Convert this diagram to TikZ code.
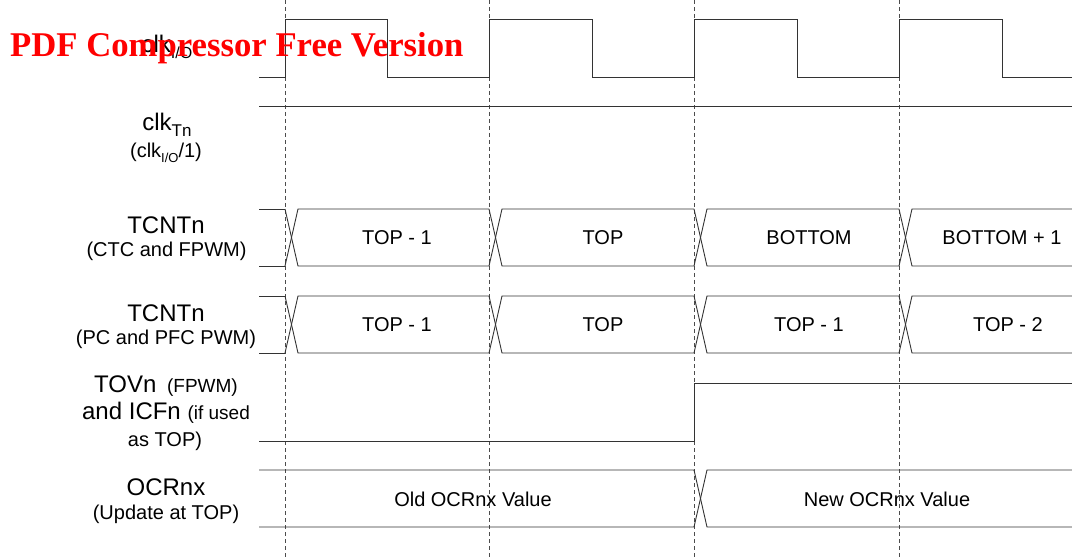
\documentclass[tikz,border=0pt]{standalone}
\usepackage{fontspec}
\setmainfont{Liberation Sans}
\newfontfamily\wmfont{Liberation Serif}
\newcommand\mysub[2]{\raisebox{-0.45ex}{\fontsize{#1}{#1}\selectfont #2}}
\tikzset{
  sig/.style={line width=0.9pt, draw=black!80},
  gridline/.style={dash pattern=on 4pt off 3pt, line width=0.7pt, draw=black!70},
  lbl/.style={font=\fontsize{24}{28}\selectfont, inner sep=0, text=black},
  sublbl/.style={font=\fontsize{20}{24}\selectfont, inner sep=0, text=black},
  val/.style={font=\fontsize{20}{24}\selectfont, inner sep=0, text=black},
}
\begin{document}
\begin{tikzpicture}[x=1pt,y=-1pt]
\useasboundingbox (0,0) rectangle (1072,559);
% dashed time markers
\foreach \x in {285,489,694,899} \draw[gridline] (\x,0) -- (\x,559);
% clk I/O
\draw[sig] (259,77) -- (285,77) -- (285,19) -- (387,19) -- (387,77) -- (489,77) -- (489,19) -- (592,19) -- (592,77) -- (694,77) -- (694,19) -- (797,19) -- (797,77) -- (899,77) -- (899,19) -- (1002,19) -- (1002,77) -- (1072,77);
% clk Tn
\draw[sig] (259,106) -- (1072,106);
% TCNTn buses
\foreach \ty/\by in {209/266, 296/353} {
  \draw[sig] (259,\ty) -- (285,\ty) (259,\by) -- (285,\by);
  \foreach \a/\n in {285/489, 489/694, 694/899, 899/1072} {
    \draw[sig] (\a,\ty) -- (\a+13,\by) -- (\n,\by);
    \draw[sig] (\a,\by) -- (\a+13,\ty) -- (\n,\ty);
  }
}
\node[val] (c1) at (397,238) {TOP - 1};
\node[val] (c2) at (603,238) {TOP};
\node[val] (c3) at (809,238) {BOTTOM};
\node[val] (c4) at (1002,238) {BOTTOM + 1};
\node[val] (p1) at (397,325) {TOP - 1};
\node[val] (p2) at (603,325) {TOP};
\node[val] (p3) at (809,325) {TOP - 1};
\node[val] (p4) at (1008,325) {TOP - 2};
% TOVn
\draw[sig] (259,441) -- (694,441) -- (694,383) -- (1072,383);
% OCRnx
\draw[sig] (259,470) -- (694,470) -- (707,527) -- (1072,527);
\draw[sig] (259,527) -- (694,527) -- (707,470) -- (1072,470);
\node[val] (o1) at (473,499) {Old OCRnx Value};
\node[val] (o2) at (887,499) {New OCRnx Value};
% labels
\node[lbl] (lclkio) at (167,47) {clk\mysub{16}{I/O}};
\node[lbl] (lclktn) at (167,125) {clk\mysub{17}{Tn}};
\node[sublbl] (lclktn2) at (166,153) {(clk\mysub{13}{I/O}/1)};
\node[lbl] (ltc1) at (166,225) {TCNTn};
\node[sublbl] (ltc1b) at (166.5,251) {(CTC and FPWM)};
\node[lbl] (ltov1) at (166,386) {TOVn\, {\fontsize{19}{19}\selectfont (FPWM)}};
\node[lbl] (ltc2) at (166,313) {TCNTn};
\node[sublbl] (ltc2b) at (166,339) {(PC and PFC PWM)};
\node[lbl] (ltov2) at (166,413) {and ICFn {\fontsize{19}{19}\selectfont (if used}};
\node[sublbl] (ltov3) at (165,441) {as TOP)};
\node[lbl] (locr) at (166,487) {OCRnx};
\node[sublbl] (locr2) at (166,514) {(Update at TOP)};
% watermark
\node[anchor=base west, inner sep=0, text=red, font=\wmfont\bfseries\fontsize{34.7}{35}\selectfont] (wm) at (10,57) {PDF Compressor Free Version};
\end{tikzpicture}
\end{document}
